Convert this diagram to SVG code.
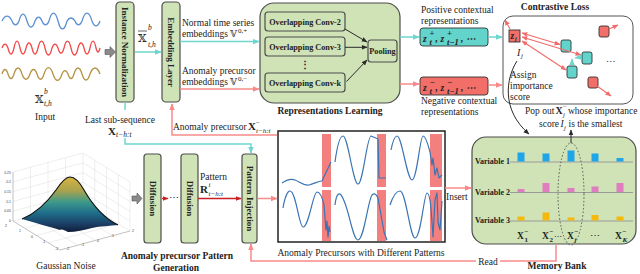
<svg xmlns="http://www.w3.org/2000/svg" width="640" height="274" viewBox="0 0 640 274">
<style>
text{font-family:"Liberation Serif","Times New Roman",serif;fill:#222;font-size:9.5px}
.b{font-weight:bold}
.bi{font-weight:bold;font-style:italic}
.it{font-style:italic}
.bb{font-family:"DejaVu Serif","DejaVu Sans",serif}
.g{fill:#cfe3b6;stroke:#4d4d4d;stroke-width:1.2}
.cy{stroke:#6fd6cf;stroke-width:1.5;fill:none}
.pk{stroke:#f78a8a;stroke-width:1.5;fill:none}
.dk{stroke:#2a2a2a;stroke-width:1;fill:none}
.rd{stroke:#f26b6b;stroke-width:1.1;fill:none}
.wv{stroke:#3a74b4;stroke-width:1.2;fill:none;stroke-linejoin:round}
.sh{fill:#f47f7f}
.grid{stroke:#dcdcdc;stroke-width:0.5;fill:none}
.tk{font-family:"Liberation Sans",Arial,sans-serif;font-size:3.5px;fill:#444}
.teal{fill:#63d4cc;stroke:#333;stroke-width:0.9}
.red{fill:#f26e68;stroke:#333;stroke-width:0.9}
.vl{font-size:8px;font-weight:bold}
.bar1{fill:#1fa6e8}.bar2{fill:#e07cc0}.bar3{fill:#f5b80c}
.vt{font-weight:bold;font-size:9px;text-anchor:middle;dominant-baseline:central}
.cv{font-weight:bold;font-size:8.2px;text-anchor:middle}
.blk{fill:#8a8a8a;stroke:#555;stroke-width:0.6}
</style>
<defs>
<marker id="ac" markerUnits="userSpaceOnUse" markerWidth="7" markerHeight="7" viewBox="0 0 10 10" refX="9" refY="5" orient="auto-start-reverse"><path d="M0,1 L10,5 L0,9 z" fill="#6fd6cf"/></marker>
<marker id="ap" markerUnits="userSpaceOnUse" markerWidth="7" markerHeight="7" viewBox="0 0 10 10" refX="9" refY="5" orient="auto-start-reverse"><path d="M0,1 L10,5 L0,9 z" fill="#f78a8a"/></marker>
<marker id="ad" markerUnits="userSpaceOnUse" markerWidth="6" markerHeight="6" viewBox="0 0 10 10" refX="9" refY="5" orient="auto-start-reverse"><path d="M0,1 L10,5 L0,9 z" fill="#2a2a2a"/></marker>
<marker id="ar" markerUnits="userSpaceOnUse" markerWidth="6" markerHeight="6" viewBox="0 0 10 10" refX="9" refY="5" orient="auto-start-reverse"><path d="M0,1 L10,5 L0,9 z" fill="#f26b6b"/></marker>
<marker id="arr" markerUnits="userSpaceOnUse" markerWidth="6" markerHeight="6" viewBox="0 0 10 10" refX="9" refY="5" orient="auto-start-reverse"><path d="M0,1 L10,5 L0,9 z" fill="#c81e24"/></marker>
<linearGradient id="surf" gradientUnits="userSpaceOnUse" x1="0" y1="177" x2="0" y2="232">
<stop offset="0" stop-color="#d6b443"/><stop offset="0.25" stop-color="#a9a24c"/><stop offset="0.45" stop-color="#3f9a8a"/><stop offset="0.65" stop-color="#1f6f8a"/><stop offset="0.85" stop-color="#1b3f66"/><stop offset="1" stop-color="#101c38"/>
</linearGradient>
</defs>
<rect width="640" height="274" fill="#fff"/>

<g id="input">
<path d="M2,21 C5,14.4 9,14.4 12,21 C14.1,26.3 16.9,26.3 19,21 C21.4,11.7 24.6,11.7 27,21 C29.4,29 32.6,29 35,21 C37.1,15.7 39.9,15.7 42,21 C44.1,26.3 46.9,26.3 49,21 C51.7,10.4 55.3,10.4 58,21 C60.7,31.6 64.3,31.6 67,21 C69.4,17 72.6,17 75,21 C77.1,26.3 79.9,26.3 82,21 C85,10.4 89,10.4 92,21 C94.4,27.6 97.6,27.6 100,21" stroke="#5b8fd3" stroke-width="1.3" fill="none"/>
<path d="M2,48 C3.8,42.7 6.2,42.7 8,48 C9.8,56 12.2,56 14,48 C15.8,38.7 18.2,38.7 20,48 C21.8,56 24.2,56 26,48 C27.8,41.3 30.2,41.3 32,48 C33.8,56 36.2,56 38,48 C40.1,38.7 42.9,38.7 45,48 C47.1,57.3 49.9,57.3 52,48 C53.8,42.7 56.2,42.7 58,48 C59.8,54.7 62.2,54.7 64,48 C66.1,38.7 68.9,38.7 71,48 C73.1,57.3 75.9,57.3 78,48 C79.8,41.3 82.2,41.3 84,48 C85.8,56 88.2,56 90,48 C91.8,38.7 94.2,38.7 96,48 C97.2,53.3 98.8,53.3 100,48" stroke="#f04a4a" stroke-width="1.3" fill="none"/>
<path d="M2,74 C3.8,68 6.2,68 8,74 C9.8,80 12.2,80 14,74 C16.4,66 19.6,66 22,74 C24.4,81 27.6,81 30,74 C32.1,68 34.9,68 37,74 C39.1,81 41.9,81 44,74 C46.7,65.5 50.3,65.5 53,74 C55.7,82.5 59.3,82.5 62,74 C63.8,69.5 66.2,69.5 68,74 C69.8,80 72.2,80 74,74 C76.4,66 79.6,66 82,74 C84.4,82 87.6,82 90,74 C93,66 97,66 100,74" stroke="#b39343" stroke-width="1.3" fill="none"/>
<text><tspan class="bb" x="35" y="103" font-size="11">𝕏</tspan><tspan class="it" x="44" y="94" font-size="7.5">b</tspan><tspan class="it" x="44" y="106" font-size="7.5">t,h</tspan></text>
<text x="45" y="120" text-anchor="middle">Input</text>
</g>

<g id="instance-normalization">
<rect class="g" x="116" y="2" width="18" height="100" rx="4"/>
<text class="vt" transform="translate(125,52) rotate(90)">Instance Normalization</text>
</g>

<g id="xbar-label">
<text><tspan class="bb" x="138" y="42" font-size="11">𝕏</tspan><tspan class="it" x="148" y="30" font-size="7.5">b</tspan><tspan class="it" x="148" y="47" font-size="7.5">t,h</tspan></text>
<line x1="138" y1="31" x2="147" y2="31" stroke="#222" stroke-width="0.7"/>
</g>

<g id="embedding-layer">
<rect class="g" x="162" y="2" width="18" height="100" rx="4"/>
<text class="vt" font-size="9.5" transform="translate(171,52) rotate(90)">Embedding Layer</text>
</g>

<g id="embedding-labels">
<text x="182" y="26">Normal time series</text>
<text><tspan x="182" y="37">embeddings</tspan><tspan class="bb" x="230" y="37" font-size="9">𝕍</tspan><tspan x="238" y="33" font-size="7">0,+</tspan></text>
<text x="182" y="74">Anomaly precursor</text>
<text><tspan x="182" y="85">embeddings</tspan><tspan class="bb" x="230" y="85" font-size="9">𝕍</tspan><tspan x="238" y="81" font-size="7">0,−</tspan></text>
</g>

<g id="representations-learning">
<rect class="g" x="260" y="3" width="140" height="100" rx="14"/>
<rect class="g" x="265" y="12" width="80" height="19" rx="3"/>
<text class="cv" x="305" y="24.5">Overlapping Conv-2</text>
<rect class="g" x="265" y="37" width="80" height="19" rx="3"/>
<text class="cv" x="305" y="49.5">Overlapping Conv-3</text>
<text class="b" x="305" y="68" font-size="9" text-anchor="middle">⋮</text>
<rect class="g" x="265" y="73" width="80" height="19" rx="3"/>
<text class="cv" x="305" y="85.5">Overlapping Conv-k</text>
<rect class="g" x="368" y="40" width="29" height="22" rx="3"/>
<text class="cv" x="382.5" y="54">Pooling</text>
<text class="b" x="330" y="114" text-anchor="middle">Representations Learning</text>
</g>

<g id="positive-representations">
<text x="421" y="13">Positive contextual</text>
<text x="421" y="24">representations</text>
<rect class="teal" x="420" y="28" width="68" height="18" rx="3"/>
<text class="bi" font-size="13"><tspan x="423" y="42">z</tspan><tspan x="429.5" y="36" font-size="8.5">+</tspan><tspan x="429.5" y="45" font-size="8.5">t</tspan><tspan x="435.5" y="42">,</tspan><tspan x="440.5" y="42">z</tspan><tspan x="447" y="36" font-size="8.5">+</tspan><tspan x="447" y="45" font-size="8.5">t−1</tspan><tspan x="461" y="42">, ⋯</tspan></text>
</g>

<g id="negative-representations">
<rect class="red" x="420" y="77" width="68" height="18" rx="3"/>
<text class="bi" font-size="13"><tspan x="423" y="91">z</tspan><tspan x="429.5" y="85" font-size="8.5">−</tspan><tspan x="429.5" y="94" font-size="8.5">t</tspan><tspan x="435.5" y="91">,</tspan><tspan x="440.5" y="91">z</tspan><tspan x="447" y="85" font-size="8.5">−</tspan><tspan x="447" y="94" font-size="8.5">t−1</tspan><tspan x="461" y="91">, ⋯</tspan></text>
<text x="421" y="104">Negative contextual</text>
<text x="421" y="115">representations</text>
</g>

<g id="contrastive-loss">
<text class="b" x="555" y="10" font-size="9.2" text-anchor="middle">Contrastive Loss</text>
<rect x="503" y="16" width="130" height="88" rx="10" fill="#fff" stroke="#555" stroke-width="1"/>
<rect class="red" x="509" y="30" width="11" height="12"/>
<text class="bi" font-size="9"><tspan x="510.5" y="39">z</tspan><tspan x="515" y="41" font-size="6">j</tspan></text>
<rect class="teal" x="561" y="40" width="10" height="12" rx="2"/>
<rect class="teal" x="582" y="52" width="10" height="12" rx="2"/>
<rect class="teal" x="567" y="66" width="10" height="12" rx="2"/>
<rect class="red" x="599" y="26" width="10" height="11" rx="2"/>
<rect class="red" x="588" y="77" width="10" height="11" rx="2"/>
<path class="rd" d="M522,33 L560,44.5" marker-start="url(#ar)" marker-end="url(#ar)"/>
<path class="rd" d="M522,37 L581,55" marker-start="url(#ar)" marker-end="url(#ar)"/>
<path class="rd" d="M522,41 L566,70" marker-start="url(#ar)" marker-end="url(#ar)"/>
<path class="rd" d="M510,29 L505,20" marker-end="url(#ar)"/>
<path class="rd" d="M609,29 L618,25" marker-end="url(#ar)"/>
<path class="rd" d="M597,86 L611,96" marker-end="url(#ar)"/>
<path d="M572,65 L572,59" stroke="#6fd6cf" stroke-width="1" marker-end="url(#ac)"/>
<path d="M581,57 L575,58" stroke="#6fd6cf" stroke-width="1" marker-end="url(#ac)"/>
<text x="606" y="62" font-size="10">…</text>
<text><tspan class="it" x="517" y="56" font-size="10">I</tspan><tspan class="it" x="521" y="58" font-size="7">j</tspan></text>
<text x="510" y="78">Assign</text>
<text x="510" y="89">importance</text>
<text x="510" y="100">score</text>
</g>

<g id="pop-out-label">
<text font-size="9.2"><tspan x="525" y="114">Pop out</tspan><tspan class="b" x="555.5" y="114" font-size="10">X</tspan><tspan x="563" y="109" font-size="6.5">−</tspan><tspan class="it" x="563" y="117" font-size="6.5">j</tspan><tspan x="568" y="114">whose importance</tspan></text>
<text font-size="9.2"><tspan x="539" y="127">score</tspan><tspan class="it" x="560.5" y="127">I</tspan><tspan class="it" x="564" y="130" font-size="6.5">j</tspan><tspan x="568.5" y="127">is the smallest</tspan></text>
</g>

<g id="memory-bank">
<rect class="g" x="472" y="137" width="164" height="107" rx="14"/>
<g stroke="#9a9a9a" stroke-width="1.2"><path d="M510,162 H633 M510,192.5 H633 M510,221 H633"/></g>
<rect class="bar1" x="517.5" y="152.5" width="7" height="9"/>
<rect class="bar1" x="542.5" y="153.5" width="7" height="8"/>
<rect class="bar1" x="567.5" y="150.5" width="7" height="11"/>
<rect class="bar1" x="591.5" y="153.5" width="7" height="8"/>
<rect class="bar1" x="616.5" y="158" width="7" height="3.5"/>
<rect class="bar2" x="517.5" y="189" width="7" height="3"/>
<rect class="bar2" x="542.5" y="183" width="7" height="9"/>
<rect class="bar2" x="567.5" y="188" width="7" height="4"/>
<rect class="bar2" x="591.5" y="186.5" width="7" height="5.5"/>
<rect class="bar2" x="616.5" y="183" width="7" height="9"/>
<rect class="bar3" x="517.5" y="216.5" width="7" height="4"/>
<rect class="bar3" x="542.5" y="212.5" width="7" height="8"/>
<rect class="bar3" x="567.5" y="217.5" width="7" height="3"/>
<rect class="bar3" x="591.5" y="215" width="7" height="5.5"/>
<rect class="bar3" x="616.5" y="216.5" width="7" height="4"/>
<text class="vl" x="475" y="164">Variable 1</text>
<text class="vl" x="475" y="194.5">Variable 2</text>
<text class="vl" x="475" y="223">Variable 3</text>
<text class="b" font-size="10.5"><tspan x="517" y="239">X</tspan><tspan x="524.5" y="234" font-size="7">−</tspan><tspan x="524.5" y="242" font-size="7">1</tspan><tspan x="542" y="239">X</tspan><tspan x="549.5" y="234" font-size="7">−</tspan><tspan x="549.5" y="242" font-size="7">2</tspan><tspan x="554" y="239" font-weight="normal" font-size="8">⋯</tspan><tspan x="567" y="239">X</tspan><tspan x="574.5" y="234" font-size="7">−</tspan><tspan x="574.5" y="242" font-size="7" font-style="italic">j</tspan><tspan x="590" y="239" font-weight="normal">⋯</tspan><tspan x="615" y="239">X</tspan><tspan x="622.5" y="234" font-size="7">−</tspan><tspan x="622.5" y="242" font-size="7" font-style="italic">K</tspan></text>
<ellipse cx="571" cy="194" rx="13" ry="51" fill="none" stroke="#555" stroke-width="1" stroke-dasharray="1.5 2"/>
<text class="b" x="557" y="269" text-anchor="middle">Memory Bank</text>
</g>

<g id="gaussian-noise">
<path class="grid" d="M30.5,216.25 V167.25 M48,211.5 V162.5 M65.5,206.75 V157.75 M83,202 V153 M13,211.2 L83,192.2 M13,201.4 L83,182.4 M13,191.6 L83,172.6 M13,181.8 L83,162.8 M13,172 L83,153 M94.75,209.25 V160.25 M106.5,216.5 V167.5 M118.25,223.75 V174.75 M130,231 V182 M83,192.2 L130,221.2 M83,182.4 L130,211.4 M83,172.6 L130,201.6 M83,162.8 L130,191.8 M83,153 L130,182 M30.5,216.25 L77.5,245.25 M48,211.5 L95,240.5 M65.5,206.75 L112.5,235.75 M83,202 L130,231 M24.75,228.25 L94.75,209.25 M36.5,235.5 L106.5,216.5 M48.25,242.75 L118.25,223.75 M13,221 L83,202"/>
<path d="M13,221 V172 M13,221 L60,250 L130,231" stroke="#999" stroke-width="0.6" fill="none"/>
<path d="M22,219 C34,214 46,204 56,190 C62,181 66,177 70,177 C75,177 79,181 84,190 C92,204 104,218 118,225 C110,226 100,226 92,228 C84,230 76,232 68,232 C64,230 62,229 60,230 C50,227 36,223 22,219 Z" fill="url(#surf)"/>
<path d="M22,219 C34,214 46,204 56,190 C62,181 66,177 70,177 C75,177 79,181 84,190 C92,204 104,218 118,225" stroke="#0d0d0d" stroke-width="1.1" fill="none"/>
<g class="tk">
<text class="tk" x="11" y="173.5" text-anchor="end">0.25</text>
<text class="tk" x="11" y="183" text-anchor="end">0.2</text>
<text class="tk" x="11" y="193" text-anchor="end">0.15</text>
<text class="tk" x="11" y="202.5" text-anchor="end">0.1</text>
<text class="tk" x="11" y="212" text-anchor="end">0.05</text>
<text class="tk" x="11" y="222" text-anchor="end">0</text>
<text class="tk" x="5" y="227">2</text>
<text class="tk" x="19" y="232">1</text>
<text class="tk" x="31" y="238">0</text>
<text class="tk" x="42" y="243">-1</text>
<text class="tk" x="55" y="250">-2</text>
<text class="tk" x="66" y="250">-2</text>
<text class="tk" x="81" y="246">-1</text>
<text class="tk" x="97" y="241.5">0</text>
<text class="tk" x="112" y="237">1</text>
<text class="tk" x="132" y="232">2</text>
</g>
<text x="66" y="269" text-anchor="middle">Gaussian Noise</text>
</g>

<g id="diffusion-1">
<rect class="g" x="144" y="154" width="17" height="89" rx="3"/>
<text class="vt" transform="translate(152.5,198.5) rotate(90)">Diffusion</text>
</g>
<g id="diffusion-2">
<rect class="g" x="181" y="154" width="17" height="89" rx="3"/>
<text class="vt" transform="translate(189.5,198.5) rotate(90)">Diffusion</text>
</g>
<text x="169" y="201" font-size="9">⋯</text>
<g id="pattern-label">
<text x="200" y="180">Pattern</text>
<text><tspan class="b" x="200" y="193" font-size="11">R</tspan><tspan class="it" x="208.5" y="187" font-size="7">i</tspan><tspan class="it" x="208.5" y="196" font-size="7">t−h:t</tspan></text>
</g>
<g id="pattern-injection">
<rect class="g" x="242" y="154" width="15" height="89" rx="3"/>
<text class="vt" transform="translate(249.5,198.5) rotate(90)">Pattern Injection</text>
</g>
<g id="generation-label">
<text class="b" x="177" y="259" font-size="9.8" text-anchor="middle">Anomaly precursor Pattern</text>
<text class="b" x="176" y="271" font-size="9.8" text-anchor="middle">Generation</text>
</g>

<g id="anomaly-precursors">
<rect x="278" y="131" width="167" height="111" fill="#fff" stroke="#222" stroke-width="1.5"/>
<rect class="sh" x="322" y="134" width="9" height="53"/>
<rect class="sh" x="377" y="134" width="9" height="53"/>
<rect class="sh" x="430" y="134" width="12" height="53"/>
<rect class="sh" x="322" y="190" width="9" height="51"/>
<rect class="sh" x="377" y="190" width="9" height="51"/>
<rect class="sh" x="430" y="190" width="12" height="51"/>
<path class="wv" d="M282,183 C286,180 290,178 295,180 C300,182 304,186 309,185 C314,184 318,181 322,181 L331,162"/>
<path class="wv" d="M335,162 C338,140 341,136 343,136 C348,136 353,184 358,184 C363,184 367,136 371,136 L378,139 L379,178 L386,178"/>
<path class="wv" d="M391,150 C393,140 395,136 397,136 C402,136 407,180 412,180 C417,180 420,136 423,136 C426,136 428,145 430,152 L432,165 L433,158 L435,175 L437,168 L439,178 L442,175"/>
<path class="wv" d="M283,208 C285,196 288,191 290,191 C296,191 299,227 303,227 C309,227 313,192 317,192 C320,192 322,196 324,205 L326,230 L327,221 L328,237 L329,226 L330,232"/>
<path class="wv" d="M335,205 C336,196 338,193 340,194 C348,200 352,240 358,240 C364,240 368,200 372,195 C375,192 377,196 378,198 L384,232 L387,240"/>
<path class="wv" d="M390,205 C393,196 397,191 400,191 C406,191 410,238 415,238 C421,238 424,193 427,193 C430,193 431,205 433,237 L435,200 L437,193 L438,222 L440,230 L442,201"/>
<text x="361" y="256" text-anchor="middle">Anomaly Precursors with Different Patterns</text>
</g>

<g id="connectors">
<polygon class="blk" points="105,49.5 110,49.5 110,46.5 115.5,52 110,57.5 110,54.5 105,54.5"/>
<polygon class="blk" points="132,196 137,196 137,193 142,198.5 137,204 137,201 132,201"/>
<path class="cy" d="M135,52 H161" marker-end="url(#ac)"/>
<path class="cy" d="M180,41.6 H259" marker-end="url(#ac)"/>
<path class="pk" d="M180,89 H259" marker-end="url(#ap)"/>
<path class="cy" d="M125,102 V110"/>
<path class="cy" d="M125,138 V144 H251 V153" marker-end="url(#ac)"/>
<path class="pk" d="M277,135 H172 V104" marker-end="url(#ap)"/>
<path class="cy" d="M400,37 H419" marker-end="url(#ac)"/>
<path class="pk" d="M400,84 H419" marker-end="url(#ap)"/>
<path class="cy" d="M488,37 H502" marker-end="url(#ac)"/>
<path class="pk" d="M488,85 H502" marker-end="url(#ap)"/>
<path class="dk" d="M345,29 L367,42" marker-end="url(#ad)"/>
<path class="dk" d="M345,47.3 L367,47.3" marker-end="url(#ad)"/>
<path class="dk" d="M346.5,81.5 L367,60" marker-end="url(#ad)"/>
<path d="M162,198.5 H168" stroke="#e03030" stroke-width="1.3" marker-end="url(#arr)"/>
<path d="M198,198.5 H241" stroke="#c81e24" stroke-width="1.5" marker-end="url(#arr)"/>
<path class="pk" d="M257,198.5 H277" marker-end="url(#ap)"/>
<path class="pk" d="M445,188 H471" marker-end="url(#ap)"/>
<path class="pk" d="M556,244 V261 H500"/>
<path class="pk" d="M476,261 H251 V244" marker-end="url(#ap)"/>
<path class="dk" d="M517,61 C506,78 501,110 529,134" stroke-width="1.1" marker-end="url(#ad)"/>
<path class="dk" d="M571,143 V130" stroke-width="1.3" marker-end="url(#ad)"/>
</g>

<g id="connector-labels">
<text x="120" y="123" text-anchor="middle">Last sub-sequence</text>
<text><tspan class="b" x="108" y="135" font-size="11">X</tspan><tspan class="it" x="116" y="137" font-size="7.5">t−h:t</tspan></text>
<text><tspan x="173" y="130">Anomaly precursor</tspan><tspan class="b" x="248" y="130" font-size="11">X</tspan><tspan x="256" y="125" font-size="7">−</tspan><tspan class="it" x="256" y="133" font-size="7">t−h:t</tspan></text>
<text x="446" y="200">Insert</text>
<text x="488" y="264.5" text-anchor="middle">Read</text>
</g>
</svg>
